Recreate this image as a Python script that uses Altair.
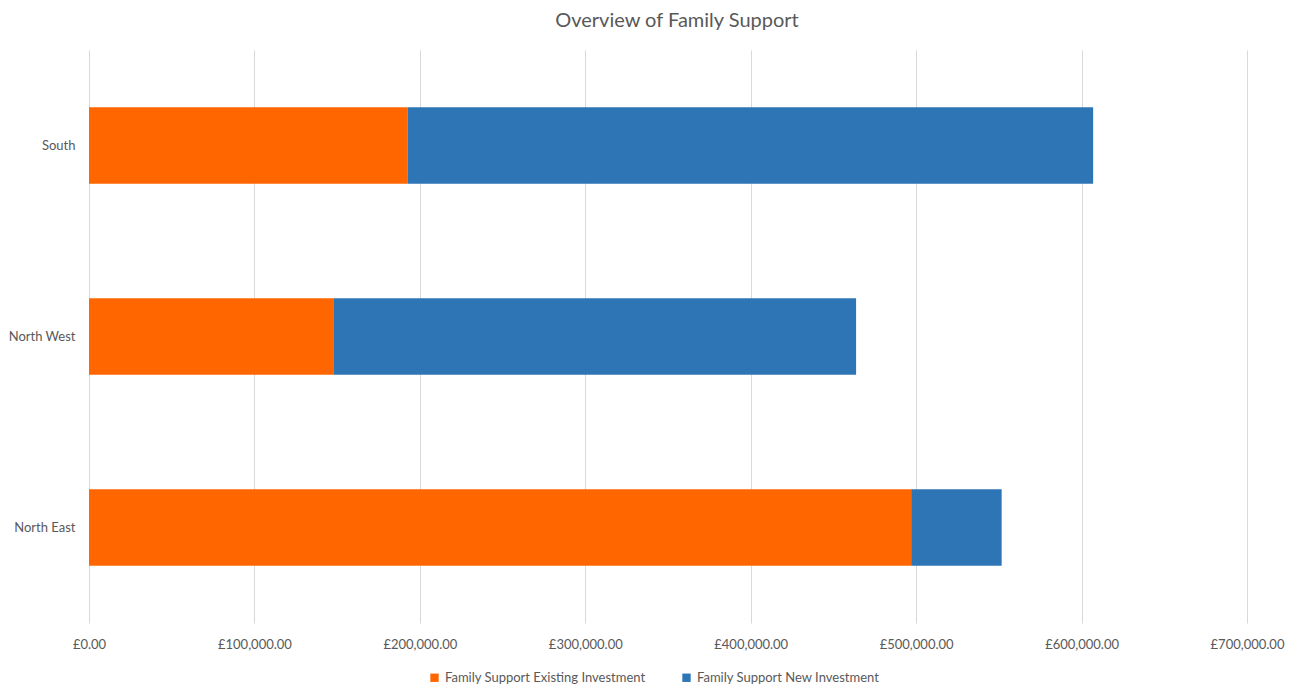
import altair as alt
import pandas as pd

regions = ["South", "North West", "North East"]
series = ["Family Support Existing Investment", "Family Support New Investment"]
existing = [192500, 147700, 497000]
new = [414500, 316000, 54700]
x_ticks = [0, 100000, 200000, 300000, 400000, 500000, 600000, 700000]

rows = []
for i, r in enumerate(regions):
    rows.append({"region": r, "series": series[0], "value": existing[i], "ord": 0})
    rows.append({"region": r, "series": series[1], "value": new[i], "ord": 1})
df = pd.DataFrame(rows)

FONT = "Lato, sans-serif"
GRAY = "#595959"

chart = alt.Chart(df).mark_bar().encode(
    y=alt.Y("region:N", sort=regions, title=None,
            scale=alt.Scale(paddingInner=0.6, paddingOuter=0.3),
            axis=alt.Axis(domain=False, ticks=False, labelFont=FONT, labelFontSize=13,
                          labelColor=GRAY, labelPadding=14, grid=False, labelLimit=0)),
    x=alt.X("value:Q", stack="zero", title=None,
            scale=alt.Scale(domain=[0, 700000], nice=False),
            axis=alt.Axis(values=x_ticks, domain=False, ticks=False, labelFont=FONT,
                          labelFontSize=13, labelColor=GRAY, labelPadding=15,
                          labelFlush=False,
                          labelExpr='"£" + format(datum.value, ",.2f")',
                          grid=True, gridColor="#D9D9D9", gridWidth=1)),
    color=alt.Color("series:N", sort=series,
                    scale=alt.Scale(domain=series, range=["#FF6600", "#2E75B6"]),
                    legend=alt.Legend(title=None, orient="none", direction="horizontal",
                                      legendX=339, legendY=621, symbolType="square",
                                      symbolSize=70, labelFont=FONT, labelFontSize=13,
                                      labelColor=GRAY, columnPadding=34, labelOffset=4,
                                      labelLimit=0)),
    order=alt.Order("ord:Q"),
).properties(
    width=1158, height=573,
    title=alt.TitleParams("Overview of Family Support", font=FONT, fontSize=20,
                          fontWeight="normal", color=GRAY, anchor="middle", offset=19,
                          dx=9),
    autosize=alt.AutoSizeParams(type="none"),
    padding={"left": 81, "top": 42, "right": 40, "bottom": 63},
).configure_view(stroke=None)

chart.save("out.html", embed_options={"renderer": "svg", "actions": False})
